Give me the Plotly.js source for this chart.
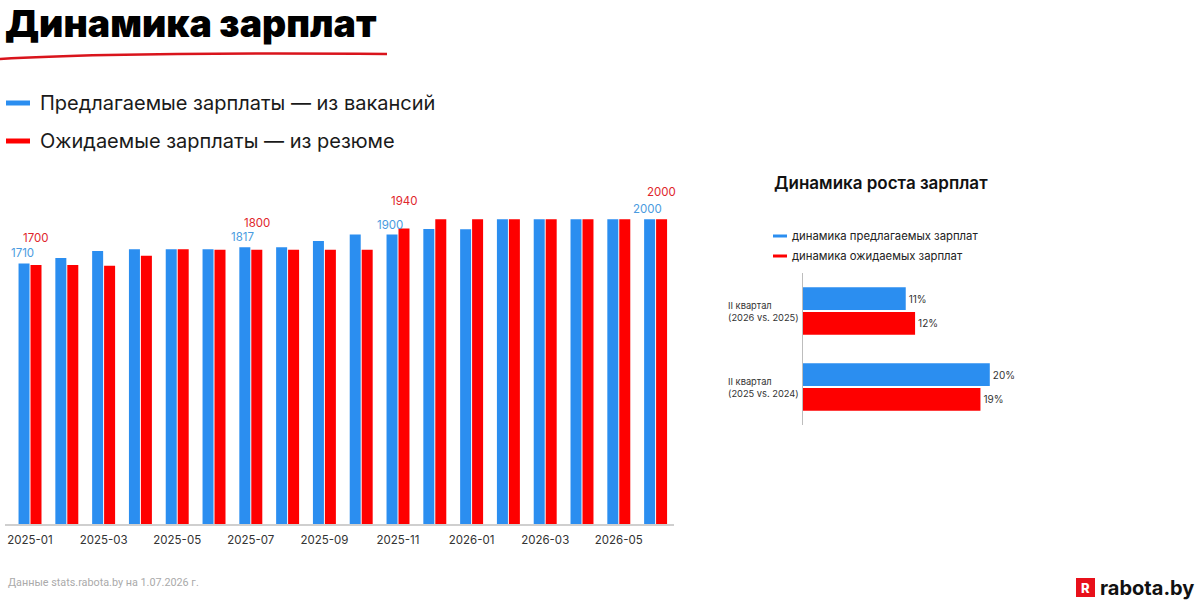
<!DOCTYPE html>
<html>
<head>
<meta charset="utf-8">
<script src="https://cdn.plot.ly/plotly-3.0.1.min.js"></script>
<style>
  html, body { margin: 0; padding: 0; background: #fff; }
  #chart { width: 1200px; height: 600px; }
</style>
</head>
<body>
<div id="chart"></div>
<script>
// Monthly salaries (BYN)
const months = ['2025-01','2025-02','2025-03','2025-04','2025-05','2025-06','2025-07','2025-08','2025-09',
                '2025-10','2025-11','2025-12','2026-01','2026-02','2026-03','2026-04','2026-05','2026-06'];
const offeredSalary  = [1710,1746,1792,1803,1803,1803,1817,1817,1858,1900,1900,1936,1934,2000,2000,2000,2000,2000];
const expectedSalary = [1700,1700,1695,1760,1803,1800,1800,1800,1800,1800,1940,2000,2000,2000,2000,2000,2000,2000];
const labelledMonths = [0, 6, 10, 17];
const tickMonths = ['2025-01','2025-03','2025-05','2025-07','2025-09','2025-11','2026-01','2026-03','2026-05'];

// Year-over-year growth, %
const periods = ['II квартал<br>(2026 vs. 2025)', 'II квартал<br>(2025 vs. 2024)'];
const offeredGrowth  = [11, 20];
const expectedGrowth = [12, 19];

const BLUE = '#2b8ef0';
const RED = '#fe0000';
const FONT = 'Inter, "Noto Sans", sans-serif';
const FOOT_FONT = 'Roboto, sans-serif';
const W = 1200, H = 600;
const px = v => v / W;          // pixel -> paper x
const py = v => 1 - v / H;      // pixel -> paper y

const traces = [
  { type: 'bar', x: months, y: offeredSalary, marker: { color: BLUE }, xaxis: 'x', yaxis: 'y',
    hoverinfo: 'x+y', showlegend: false },
  { type: 'bar', x: months, y: expectedSalary, marker: { color: RED }, xaxis: 'x', yaxis: 'y',
    hoverinfo: 'x+y', showlegend: false },
  { type: 'bar', orientation: 'h', y: periods, x: offeredGrowth, marker: { color: BLUE },
    xaxis: 'x2', yaxis: 'y2', text: offeredGrowth.map(v => v + '%'), textposition: 'outside',
    textfont: { size: 10, color: '#333', family: FONT }, cliponaxis: false, showlegend: false },
  { type: 'bar', orientation: 'h', y: periods, x: expectedGrowth, marker: { color: RED },
    xaxis: 'x2', yaxis: 'y2', text: expectedGrowth.map(v => v + '%'), textposition: 'outside',
    textfont: { size: 10, color: '#333', family: FONT }, cliponaxis: false, showlegend: false }
];

const annotations = [];

// value labels over selected months
labelledMonths.forEach(i => {
  annotations.push({ xref: 'x', yref: 'y', x: months[i], y: offeredSalary[i], text: String(offeredSalary[i]),
    showarrow: false, xanchor: 'center', yanchor: 'middle', xshift: -8, yshift: 10,
    font: { family: FONT, size: 11.5, color: '#4a9be0' } });
  annotations.push({ xref: 'x', yref: 'y', x: months[i], y: expectedSalary[i], text: String(expectedSalary[i]),
    showarrow: false, xanchor: 'center', yanchor: 'middle', xshift: 6, yshift: 27,
    font: { family: FONT, size: 11.5, color: '#e0262b' } });
});

// period labels of the growth chart
periods.forEach(p => {
  annotations.push({ xref: 'paper', yref: 'y2', x: px(726), y: p, text: p, showarrow: false,
    xanchor: 'left', yanchor: 'middle', align: 'left',
    font: { family: FONT, size: 9.3, color: '#333' } });
});

// headings, legends, footer
annotations.push(
  { xref: 'paper', yref: 'paper', x: px(3), y: py(23), text: 'Динамика зарплат', showarrow: false,
    xanchor: 'left', yanchor: 'middle', font: { family: FONT, size: 37.5, weight: 900, color: '#000' } },
  { xref: 'paper', yref: 'paper', x: px(38), y: py(103), text: 'Предлагаемые зарплаты — из вакансий', showarrow: false,
    xanchor: 'left', yanchor: 'middle', font: { family: FONT, size: 20, color: '#1a1a1a' } },
  { xref: 'paper', yref: 'paper', x: px(38), y: py(141), text: 'Ожидаемые зарплаты — из резюме', showarrow: false,
    xanchor: 'left', yanchor: 'middle', font: { family: FONT, size: 20, color: '#1a1a1a' } },
  { xref: 'paper', yref: 'paper', x: px(772), y: py(183), text: 'Динамика роста зарплат', showarrow: false,
    xanchor: 'left', yanchor: 'middle', font: { family: FONT, size: 17, weight: 600, color: '#111' } },
  { xref: 'paper', yref: 'paper', x: px(790), y: py(236), text: 'динамика предлагаемых зарплат', showarrow: false,
    xanchor: 'left', yanchor: 'middle', font: { family: FONT, size: 11.3, color: '#222' } },
  { xref: 'paper', yref: 'paper', x: px(790), y: py(256), text: 'динамика ожидаемых зарплат', showarrow: false,
    xanchor: 'left', yanchor: 'middle', font: { family: FONT, size: 11.3, color: '#222' } },
  { xref: 'paper', yref: 'paper', x: px(6), y: py(582), text: 'Данные stats.rabota.by на 1.07.2026 г.', showarrow: false,
    xanchor: 'left', yanchor: 'middle', font: { family: FOOT_FONT, size: 10.8, color: '#aaa' } },
  { xref: 'paper', yref: 'paper', x: px(1085.5), y: py(588), text: 'R', showarrow: false,
    xanchor: 'center', yanchor: 'middle', font: { family: FONT, size: 13, weight: 800, color: '#fff' } },
  { xref: 'paper', yref: 'paper', x: px(1098), y: py(588), text: 'rabota.by', showarrow: false,
    xanchor: 'left', yanchor: 'middle', font: { family: FONT, size: 20, weight: 700, color: '#111' } }
);

const shapes = [
  // brush underline of the heading
  { type: 'path', xref: 'paper', yref: 'paper',
    path: `M 0 ${py(59)} Q ${px(120)} ${py(52)} ${px(387)} ${py(54)}`,
    line: { color: '#d9141c', width: 2.5 } },
  // legend keys
  { type: 'line', xref: 'paper', yref: 'paper', x0: px(6), x1: px(30), y0: py(103), y1: py(103),
    line: { color: BLUE, width: 5 } },
  { type: 'line', xref: 'paper', yref: 'paper', x0: px(6), x1: px(30), y0: py(141), y1: py(141),
    line: { color: RED, width: 5 } },
  { type: 'line', xref: 'paper', yref: 'paper', x0: px(773), x1: px(787), y0: py(236), y1: py(236),
    line: { color: BLUE, width: 3 } },
  { type: 'line', xref: 'paper', yref: 'paper', x0: px(773), x1: px(787), y0: py(256), y1: py(256),
    line: { color: RED, width: 3 } },
  // logo badge
  { type: 'rect', xref: 'paper', yref: 'paper', x0: px(1076), x1: px(1095), y0: py(597), y1: py(578),
    fillcolor: '#e8101a', line: { width: 0 } }
];

const layout = {
  width: W, height: H,
  margin: { l: 0, r: 0, t: 0, b: 0 },
  paper_bgcolor: '#fff', plot_bgcolor: '#fff',
  font: { family: FONT },
  barmode: 'group', bargap: 0.35, bargroupgap: 0.08,
  showlegend: false,
  xaxis: {
    domain: [px(5), px(674)], type: 'category', range: [-0.68, 17.5],
    tickvals: tickMonths, ticktext: tickMonths, ticks: '', ticklabelstandoff: 4,
    tickfont: { family: FONT, size: 11.5, color: '#333' },
    showline: true, linecolor: '#cfcfcf', linewidth: 2, showgrid: false, zeroline: false, fixedrange: true
  },
  yaxis: {
    domain: [1 - 524 / H, 1 - 180 / H], range: [0, (524 - 180) / 0.15235],
    visible: false, fixedrange: true
  },
  xaxis2: {
    anchor: 'y2', domain: [px(803), px(1100)], range: [0, 31.8], visible: false, fixedrange: true
  },
  yaxis2: {
    anchor: 'x2', domain: [1 - 425 / H, 1 - 273 / H], type: 'category', range: [1.5, -0.5],
    showticklabels: false, ticks: '', showgrid: false, zeroline: false,
    showline: true, linecolor: '#bdbdbd', linewidth: 1, fixedrange: true
  },
  annotations: annotations,
  shapes: shapes
};

Plotly.newPlot('chart', traces, layout, { displayModeBar: false, staticPlot: true });
</script>
</body>
</html>
